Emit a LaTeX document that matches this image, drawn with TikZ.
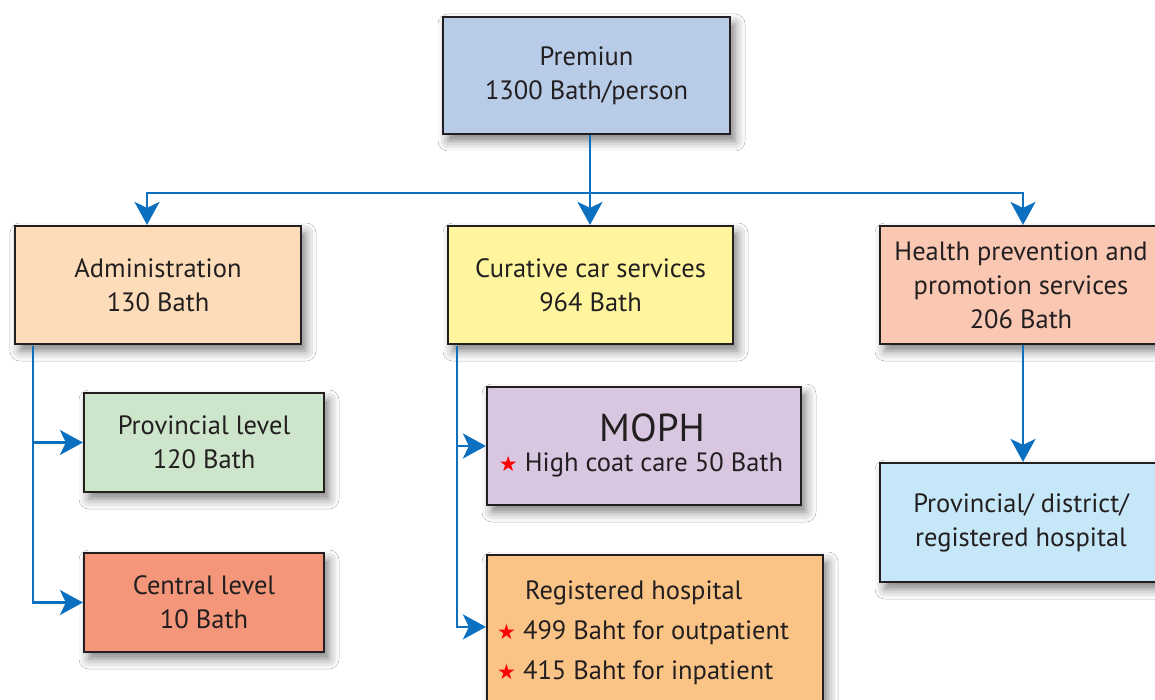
\documentclass[tikz,border=0pt]{standalone}
\usepackage{fontspec}
\setmainfont{PT Sans}
\newfontfamily\symfont{DejaVu Sans}
\usetikzlibrary{arrows.meta,shadows.blur}
\definecolor{conn}{HTML}{0B70BF}
\definecolor{edge}{HTML}{231F20}
\definecolor{cPrem}{HTML}{B8CCE8}
\definecolor{cAdm}{HTML}{FDDDB9}
\definecolor{cCur}{HTML}{FFF59E}
\definecolor{cHp}{HTML}{F9C7B2}
\definecolor{cProv}{HTML}{CDE5CA}
\definecolor{cCent}{HTML}{F4967A}
\definecolor{cMoph}{HTML}{D9C6E1}
\definecolor{cReg}{HTML}{FAC487}
\definecolor{cPdr}{HTML}{C6E7F8}
\newcommand{\redstar}{{\symfont\color{red}\fontsize{21}{21}\selectfont ★}}
\tikzset{
  box/.style={draw=edge, line width=2.2pt, rectangle, inner sep=0pt, align=center,
    text=edge, font=\fontsize{26.5}{34}\selectfont,
    blur shadow={shadow xshift=5pt, shadow yshift=-7pt, shadow blur radius=10pt, shadow opacity=50}},
  conline/.style={draw=conn, line width=2.4pt},
  arr/.style={conline, -{Stealth[length=23pt,width=25pt,inset=6pt]}},
  lbl/.style={inner sep=0pt, text=edge, font=\fontsize{26.5}{34}\selectfont, anchor=base west}
}
\begin{document}
\begin{tikzpicture}[x=1pt,y=-1pt]
\useasboundingbox (0,0) rectangle (1155,700);
\fill[white] (0,0) rectangle (1155,700);
% boxes
\node[box, fill=cPrem, minimum width=287pt, minimum height=117pt] (prem) at (586.5,75.5) {Premiun\\1300 Bath/person};
\node[box, fill=cAdm, minimum width=286pt, minimum height=118pt] (adm) at (158,285) {Administration\\130 Bath};
\node[box, fill=cCur, minimum width=285pt, minimum height=118pt] (cur) at (590.5,285) {Curative car services\\964 Bath};
\node[box, fill=cHp, minimum width=282pt, minimum height=118pt] (hp) at (1021,285) {Health prevention and\\promotion services\\206 Bath};
\node[box, fill=cProv, minimum width=240pt, minimum height=99pt] (prov) at (204,442.5) {Provincial level\\120 Bath};
\node[box, fill=cCent, minimum width=240pt, minimum height=99pt] (cent) at (204,602.5) {Central level\\10 Bath};
\node[box, fill=cMoph, minimum width=314pt, minimum height=118pt] (moph) at (644,446) {};
\node[inner sep=0pt, text=edge, font=\fontsize{39}{39}\selectfont] (mophT) at (652,428) {MOPH};
\node[inner sep=0pt, text=edge, font=\fontsize{26.5}{34}\selectfont] (mophL) at (641,465) {\redstar\ High coat care 50 Bath};
\node[box, fill=cReg, minimum width=336pt, minimum height=170pt] (reg) at (655,640) {};
\node[lbl] (reg1) at (525,599) {Registered hospital};
\node[lbl] (reg2) at (497,639) {\redstar\ 499 Baht for outpatient};
\node[lbl] (reg3) at (497,679) {\redstar\ 415 Baht for inpatient};
\node[box, fill=cPdr, minimum width=282pt, minimum height=119pt] (pdr) at (1021,522.5) {Provincial/ district/\\registered hospital};
% connectors
\coordinate (j) at (590,193);
\draw[arr] (prem.south -| j) -- (cur.north -| j);
\draw[arr] (j) -| ([xshift=-11pt]adm.north);
\draw[arr] (j) -| ([xshift=2pt]hp.north);
\draw[arr] ([xshift=2pt]hp.south) -- ([xshift=2pt]pdr.north);
\coordinate (a0) at (33,345.5);
\draw[arr] (a0) |- (prov.west);
\draw[arr] (a0) |- (cent.west);
\coordinate (c0) at (457,345.5);
\draw[arr] (c0) |- (moph.west);
\draw[arr] (c0) |- ([yshift=-73pt]reg.north west);
\end{tikzpicture}
\end{document}
